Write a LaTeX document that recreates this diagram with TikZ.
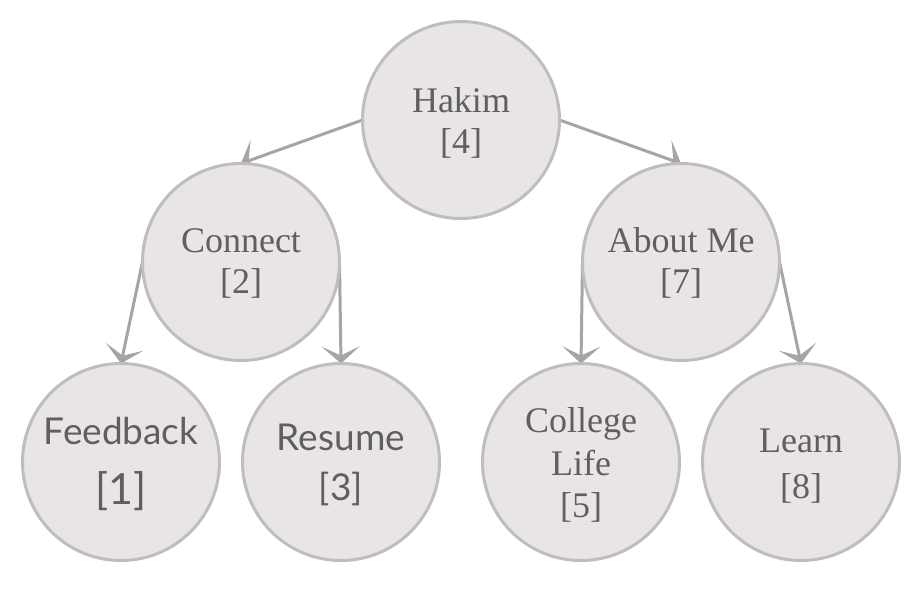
\documentclass[tikz,border=0pt]{standalone}
\usepackage{fontspec}
\setmainfont{Liberation Serif}
\newfontfamily\latofont{Lato}
\usetikzlibrary{arrows.meta,backgrounds}
\definecolor{nodefill}{RGB}{232,228,232}
\definecolor{nodeline}{RGB}{190,190,190}
\definecolor{edgecol}{RGB}{165,165,165}
\definecolor{txt}{RGB}{95,95,95}
\begin{document}
\begin{tikzpicture}[x=1pt,y=-1pt,
  treenode/.style={circle,draw=nodeline,fill=nodefill,line width=3pt,minimum size=197pt,inner sep=0pt,outer sep=0pt},
  serif/.style={anchor=base,text=txt,font=\fontsize{36}{43}\selectfont,inner sep=0pt},
  sans/.style={anchor=base,text=txt,font=\latofont\fontsize{37}{44}\selectfont,inner sep=0pt},
  sansbig/.style={anchor=base,text=txt,font=\latofont\fontsize{43}{50}\selectfont,inner sep=0pt},
  edge/.style={draw=edgecol,line width=3pt,-{Stealth[length=17pt,width=38pt,inset=9pt]}}]
\useasboundingbox (0,0) rectangle (917,614);
\node[treenode] (hakim) at (461,120) {};
\node[treenode] (connect) at (241,262) {};
\node[treenode] (aboutme) at (681,262) {};
\node[treenode] (feedback) at (121,462) {};
\node[treenode] (resume) at (341,462) {};
\node[treenode] (college) at (581,462) {};
\node[treenode] (learn) at (801,462) {};
\begin{scope}[on background layer]
\draw[edge] (hakim.west) -- (connect.north);
\draw[edge] (hakim.east) -- (aboutme.north);
\draw[edge] (connect.west) -- (feedback.north);
\draw[edge] (connect.east) -- (resume.north);
\draw[edge] (aboutme.west) -- (college.north);
\draw[edge] (aboutme.east) -- (learn.north);
\end{scope}
\node[serif] (t4a) at (461,112) {Hakim};
\node[serif] (t4b) at (461,153) {[4]};
\node[serif] (t2a) at (241,252) {Connect};
\node[serif] (t2b) at (241,293) {[2]};
\node[serif] (t7a) at (681,252) {About Me};
\node[serif] (t7b) at (681,293) {[7]};
\node[sans] (t1a) at (121,444) {Feedback};
\node[sansbig] (t1b) at (121,504) {[1]};
\node[sans] (t3a) at (341,450) {Resume};
\node[sans] (t3b) at (341,500) {[3]};
\node[serif] (t5a) at (581,432) {College};
\node[serif] (t5b) at (581,475) {Life};
\node[serif] (t5c) at (581,517) {[5]};
\node[serif] (t8a) at (801,452) {Learn};
\node[serif] (t8b) at (801,498) {[8]};
\end{tikzpicture}
\end{document}
